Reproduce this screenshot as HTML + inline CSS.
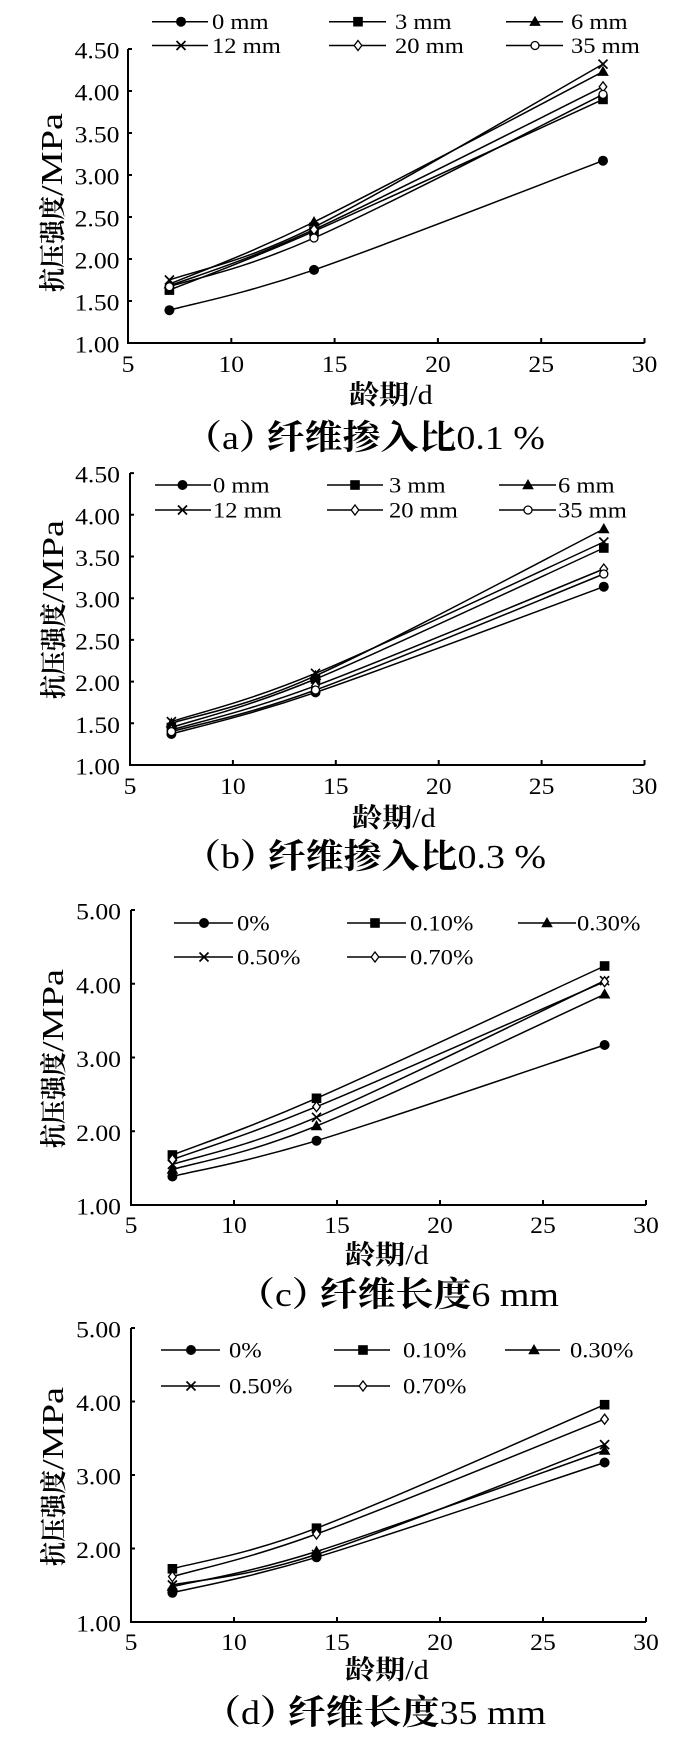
<!DOCTYPE html>
<html><head><meta charset="utf-8"><style>
html,body{margin:0;padding:0;background:#fff;}
svg{display:block;}
.t{font-family:"Liberation Serif","Noto Serif CJK SC",serif;font-size:22px;fill:#000;}
.k{font-size:23px;}
.c{font-family:"Noto Serif CJK SC","Noto Sans CJK SC",serif;font-weight:700;fill:#000;}
.l{fill:none;stroke:#000;stroke-width:1.5;}
.ax{fill:none;stroke:#000;stroke-width:2;}
</style></head><body>
<svg width="700" height="1745" viewBox="0 0 700 1745" xmlns="http://www.w3.org/2000/svg">
<defs>
<g id="mc"><circle r="5" fill="#000"/></g>
<g id="ms"><rect x="-4.8" y="-4.8" width="9.6" height="9.6" fill="#000"/></g>
<g id="mt"><path d="M0,-6 L5.8,4.2 L-5.8,4.2Z" fill="#000"/></g>
<g id="mx"><path d="M-4.5,-4.5 L4.5,4.5 M4.5,-4.5 L-4.5,4.5" stroke="#000" stroke-width="1.7" fill="none"/></g>
<g id="md"><path d="M0,-5 L3.8,0 L0,5 L-3.8,0Z" fill="#fff" stroke="#000" stroke-width="1.3"/></g>
<g id="mo"><circle r="4" fill="#fff" stroke="#000" stroke-width="1.3"/></g>
</defs>

<!-- ================= PANEL A ================= -->
<g>
<path class="ax" d="M128,49 L128,343 L644.5,343"/>
<path class="ax" stroke-width="1.5" d="M231.3,343v-5M334.6,343v-5M437.9,343v-5M541.2,343v-5M644.5,343v-5M128,49h4M128,91h4M128,133h4M128,175h4M128,217h4M128,259h4M128,301h4"/>
<text class="t k" text-anchor="end" transform="translate(119.5,58.5) scale(1.1164,1)">4.50</text>
<text class="t k" text-anchor="end" transform="translate(119.5,100.5) scale(1.1164,1)">4.00</text>
<text class="t k" text-anchor="end" transform="translate(119.5,142.5) scale(1.1164,1)">3.50</text>
<text class="t k" text-anchor="end" transform="translate(119.5,184.5) scale(1.1164,1)">3.00</text>
<text class="t k" text-anchor="end" transform="translate(119.5,226.5) scale(1.1164,1)">2.50</text>
<text class="t k" text-anchor="end" transform="translate(119.5,268.5) scale(1.1164,1)">2.00</text>
<text class="t k" text-anchor="end" transform="translate(119.5,310.5) scale(1.1164,1)">1.50</text>
<text class="t k" text-anchor="end" transform="translate(119.5,352.5) scale(1.1164,1)">1.00</text>
<text class="t k" text-anchor="middle" transform="translate(128,372) scale(1.1164,1)">5</text>
<text class="t k" text-anchor="middle" transform="translate(231.3,372) scale(1.1164,1)">10</text>
<text class="t k" text-anchor="middle" transform="translate(334.6,372) scale(1.1164,1)">15</text>
<text class="t k" text-anchor="middle" transform="translate(437.9,372) scale(1.1164,1)">20</text>
<text class="t k" text-anchor="middle" transform="translate(541.2,372) scale(1.1164,1)">25</text>
<text class="t k" text-anchor="middle" transform="translate(644.5,372) scale(1.1164,1)">30</text>
<text class="c" style="font-size:24px" transform="translate(62,292) scale(1.1164,1) rotate(-90)">抗压强度</text>
<text class="t" style="font-size:27px" textLength="83" lengthAdjust="spacingAndGlyphs" transform="translate(62,196) scale(1.1164,1) rotate(-90)">/MPa</text>
<text transform="translate(349,404) scale(1.1164,1)"><tspan class="c" style="font-size:27px">龄期</tspan><tspan class="t" style="font-size:27px">/d</tspan></text>
<text transform="translate(184,449) scale(1.1164,1)" style="font-size:34px"><tspan class="c" style="font-size:34px">（</tspan><tspan class="t" style="font-size:34px">a</tspan><tspan class="c" style="font-size:34px">）</tspan><tspan class="c" style="font-size:34px" dx="-9">纤维掺入比</tspan><tspan class="t" style="font-size:34px">0.1 %</tspan></text>
<!-- legend -->
<path class="l" d="M152,21.7H208M329,21.7H386M506,21.7H563M152,45.5H208M329,45.5H386M506,45.5H563"/>
<use href="#mc" x="181" y="21.7"/><use href="#ms" x="358" y="21.7"/><use href="#mt" x="535" y="21.7"/>
<use href="#mx" x="181" y="45.5"/><use href="#md" x="358" y="45.5"/><use href="#mo" x="535" y="45.5"/>
<text class="t" transform="translate(212,29.2) scale(1.1164,1)">0 mm</text>
<text class="t" transform="translate(395,29.2) scale(1.1164,1)">3 mm</text>
<text class="t" transform="translate(571,29.2) scale(1.1164,1)">6 mm</text>
<text class="t" transform="translate(212,53) scale(1.1164,1)">12 mm</text>
<text class="t" transform="translate(395,53) scale(1.1164,1)">20 mm</text>
<text class="t" transform="translate(571,53) scale(1.1164,1)">35 mm</text>
<!-- series -->
<path class="l" d="M169.4,310.2 C193.5,303.5 241.7,294.8 314,269.9 C386.3,245 554.8,178.9 603,160.7"/>
<path class="l" d="M169.4,290.1 C193.5,280.3 241.7,263.1 314,231.3 C386.3,199.5 554.8,121.4 603,99.4"/>
<path class="l" d="M169.4,284.2 C193.5,273.8 241.7,257.4 314,222 C386.3,186.6 554.8,96.8 603,71.7"/>
<path class="l" d="M169.4,280 C193.5,271.2 241.7,263.1 314,227.1 C386.3,191.1 554.8,91.3 603,64.1"/>
<path class="l" d="M169.4,285.9 C193.5,276.5 241.7,262.8 314,229.6 C386.3,196.4 554.8,110.6 603,86.8"/>
<path class="l" d="M169.4,286.7 C193.5,278.6 241.7,270.1 314,238 C386.3,206 554.8,118.3 603,94.4"/>
<use href="#mc" x="169.4" y="310.2"/><use href="#mc" x="314" y="269.9"/><use href="#mc" x="603" y="160.7"/>
<use href="#ms" x="169.4" y="290.1"/><use href="#ms" x="314" y="231.3"/><use href="#ms" x="603" y="99.4"/>
<use href="#mt" x="169.4" y="284.2"/><use href="#mt" x="314" y="222"/><use href="#mt" x="603" y="71.7"/>
<use href="#mx" x="169.4" y="280"/><use href="#mx" x="314" y="227.1"/><use href="#mx" x="603" y="64.1"/>
<use href="#md" x="169.4" y="285.9"/><use href="#md" x="314" y="229.6"/><use href="#md" x="603" y="86.8"/>
<use href="#mo" x="169.4" y="286.7"/><use href="#mo" x="314" y="238"/><use href="#mo" x="603" y="94.4"/>
</g>

<!-- ================= PANEL B ================= -->
<g>
<path class="ax" d="M130,473 L130,765 L644.5,765"/>
<path class="ax" stroke-width="1.5" d="M232.9,765v-5M335.8,765v-5M438.7,765v-5M541.6,765v-5M644.5,765v-5M130,473.1h4M130,514.8h4M130,556.5h4M130,598.2h4M130,639.9h4M130,681.6h4M130,723.3h4"/>
<text class="t k" text-anchor="end" transform="translate(120,482.6) scale(1.1164,1)">4.50</text>
<text class="t k" text-anchor="end" transform="translate(120,524.3) scale(1.1164,1)">4.00</text>
<text class="t k" text-anchor="end" transform="translate(120,566) scale(1.1164,1)">3.50</text>
<text class="t k" text-anchor="end" transform="translate(120,607.7) scale(1.1164,1)">3.00</text>
<text class="t k" text-anchor="end" transform="translate(120,649.4) scale(1.1164,1)">2.50</text>
<text class="t k" text-anchor="end" transform="translate(120,691.1) scale(1.1164,1)">2.00</text>
<text class="t k" text-anchor="end" transform="translate(120,732.8) scale(1.1164,1)">1.50</text>
<text class="t k" text-anchor="end" transform="translate(120,774.5) scale(1.1164,1)">1.00</text>
<text class="t k" text-anchor="middle" transform="translate(130,794) scale(1.1164,1)">5</text>
<text class="t k" text-anchor="middle" transform="translate(232.9,794) scale(1.1164,1)">10</text>
<text class="t k" text-anchor="middle" transform="translate(335.8,794) scale(1.1164,1)">15</text>
<text class="t k" text-anchor="middle" transform="translate(438.7,794) scale(1.1164,1)">20</text>
<text class="t k" text-anchor="middle" transform="translate(541.6,794) scale(1.1164,1)">25</text>
<text class="t k" text-anchor="middle" transform="translate(644.5,794) scale(1.1164,1)">30</text>
<text class="c" style="font-size:24px" transform="translate(63,699) scale(1.1164,1) rotate(-90)">抗压强度</text>
<text class="t" style="font-size:27px" textLength="83" lengthAdjust="spacingAndGlyphs" transform="translate(63,603) scale(1.1164,1) rotate(-90)">/MPa</text>
<text transform="translate(352,827) scale(1.1164,1)"><tspan class="c" style="font-size:27px">龄期</tspan><tspan class="t" style="font-size:27px">/d</tspan></text>
<text transform="translate(183,868) scale(1.1164,1)" style="font-size:34px"><tspan class="c" style="font-size:34px">（</tspan><tspan class="t" style="font-size:34px">b</tspan><tspan class="c" style="font-size:34px">）</tspan><tspan class="c" style="font-size:34px" dx="-9">纤维掺入比</tspan><tspan class="t" style="font-size:34px">0.3 %</tspan></text>
<path class="l" d="M155,485H211M327,485H383M499,485H556M155,510H211M327,510H383M499,510H556"/>
<use href="#mc" x="182.5" y="485"/><use href="#ms" x="355" y="485"/><use href="#mt" x="528" y="485"/>
<use href="#mx" x="182.5" y="510"/><use href="#md" x="355" y="510"/><use href="#mo" x="528" y="510"/>
<text class="t" transform="translate(213,492.5) scale(1.1164,1)">0 mm</text>
<text class="t" transform="translate(389,492.5) scale(1.1164,1)">3 mm</text>
<text class="t" transform="translate(558,492.5) scale(1.1164,1)">6 mm</text>
<text class="t" transform="translate(213,517.5) scale(1.1164,1)">12 mm</text>
<text class="t" transform="translate(389,517.5) scale(1.1164,1)">20 mm</text>
<text class="t" transform="translate(558,517.5) scale(1.1164,1)">35 mm</text>
<path class="l" d="M171.4,734 C195.4,727.1 243.4,717 315.5,692.4 C387.6,667.9 555.8,604.3 603.8,586.7"/>
<path class="l" d="M171.4,727.5 C195.4,719.4 243.4,708.9 315.5,679 C387.6,649.1 555.8,569.8 603.8,548"/>
<path class="l" d="M171.4,723.3 C195.4,715.4 243.4,708.2 315.5,675.8 C387.6,643.4 555.8,553.5 603.8,529"/>
<path class="l" d="M171.4,721.6 C195.4,713.6 243.4,703.2 315.5,673.3 C387.6,643.4 555.8,563.9 603.8,542"/>
<path class="l" d="M171.4,730 C195.4,722.6 243.4,712.6 315.5,685.8 C387.6,659 555.8,588.5 603.8,569"/>
<path class="l" d="M171.4,731.6 C195.4,724.7 243.4,716.3 315.5,690 C387.6,663.7 555.8,593.3 603.8,574"/>
<use href="#mc" x="171.4" y="734"/><use href="#mc" x="315.5" y="692.4"/><use href="#mc" x="603.8" y="586.7"/>
<use href="#ms" x="171.4" y="727.5"/><use href="#ms" x="315.5" y="679"/><use href="#ms" x="603.8" y="548"/>
<use href="#mt" x="171.4" y="723.3"/><use href="#mt" x="315.5" y="675.8"/><use href="#mt" x="603.8" y="529"/>
<use href="#mx" x="171.4" y="721.6"/><use href="#mx" x="315.5" y="673.3"/><use href="#mx" x="603.8" y="542"/>
<use href="#md" x="171.4" y="730"/><use href="#md" x="315.5" y="685.8"/><use href="#md" x="603.8" y="569"/>
<use href="#mo" x="171.4" y="731.6"/><use href="#mo" x="315.5" y="690"/><use href="#mo" x="603.8" y="574"/>
</g>

<!-- ================= PANEL C ================= -->
<g>
<path class="ax" d="M131,910 L131,1205 L646,1205"/>
<path class="ax" stroke-width="1.5" d="M234,1205v-5M337,1205v-5M440,1205v-5M543,1205v-5M646,1205v-5M131,910h4M131,983.75h4M131,1057.5h4M131,1131.25h4"/>
<text class="t k" text-anchor="end" transform="translate(121,919.5) scale(1.1164,1)">5.00</text>
<text class="t k" text-anchor="end" transform="translate(121,993.25) scale(1.1164,1)">4.00</text>
<text class="t k" text-anchor="end" transform="translate(121,1067) scale(1.1164,1)">3.00</text>
<text class="t k" text-anchor="end" transform="translate(121,1140.75) scale(1.1164,1)">2.00</text>
<text class="t k" text-anchor="end" transform="translate(121,1214.5) scale(1.1164,1)">1.00</text>
<text class="t k" text-anchor="middle" transform="translate(131,1233) scale(1.1164,1)">5</text>
<text class="t k" text-anchor="middle" transform="translate(234,1233) scale(1.1164,1)">10</text>
<text class="t k" text-anchor="middle" transform="translate(337,1233) scale(1.1164,1)">15</text>
<text class="t k" text-anchor="middle" transform="translate(440,1233) scale(1.1164,1)">20</text>
<text class="t k" text-anchor="middle" transform="translate(543,1233) scale(1.1164,1)">25</text>
<text class="t k" text-anchor="middle" transform="translate(646,1233) scale(1.1164,1)">30</text>
<text class="c" style="font-size:24px" transform="translate(63,1148) scale(1.1164,1) rotate(-90)">抗压强度</text>
<text class="t" style="font-size:27px" textLength="83" lengthAdjust="spacingAndGlyphs" transform="translate(63,1052) scale(1.1164,1) rotate(-90)">/MPa</text>
<text transform="translate(345,1264) scale(1.1164,1)"><tspan class="c" style="font-size:27px">龄期</tspan><tspan class="t" style="font-size:27px">/d</tspan></text>
<text transform="translate(237,1306) scale(1.1164,1)" style="font-size:34px"><tspan class="c" style="font-size:34px">（</tspan><tspan class="t" style="font-size:34px">c</tspan><tspan class="c" style="font-size:34px">）</tspan><tspan class="c" style="font-size:34px" dx="-9">纤维长度</tspan><tspan class="t" style="font-size:34px">6 mm</tspan></text>
<path class="l" d="M174,923H233M347,923H406M518,923H576M174,957H233M347,957H406"/>
<use href="#mc" x="204" y="923"/><use href="#ms" x="375" y="923"/><use href="#mt" x="547" y="923"/>
<use href="#mx" x="204" y="957"/><use href="#md" x="375" y="957"/>
<text class="t" transform="translate(237,930.5) scale(1.1164,1)">0%</text>
<text class="t" transform="translate(410,930.5) scale(1.1164,1)">0.10%</text>
<text class="t" transform="translate(577,930.5) scale(1.1164,1)">0.30%</text>
<text class="t" transform="translate(237,964.5) scale(1.1164,1)">0.50%</text>
<text class="t" transform="translate(410,964.5) scale(1.1164,1)">0.70%</text>
<path class="l" d="M172.4,1176.5 C196.4,1170.5 244.5,1162.6 316.5,1140.7 C388.5,1118.8 556.6,1061 604.6,1045"/>
<path class="l" d="M172.4,1155 C196.4,1145.6 244.5,1129.8 316.5,1098.3 C388.5,1066.8 556.6,988.1 604.6,966"/>
<path class="l" d="M172.4,1169.6 C196.4,1162.3 244.5,1155.2 316.5,1126 C388.5,1096.8 556.6,1016.3 604.6,994.3"/>
<path class="l" d="M172.4,1164.4 C196.4,1156.6 244.5,1147.9 316.5,1117.3 C388.5,1086.7 556.6,1003.5 604.6,980.7"/>
<path class="l" d="M172.4,1159.5 C196.4,1150.7 244.5,1136.3 316.5,1106.7 C388.5,1077.1 556.6,1002.5 604.6,981.7"/>
<use href="#mc" x="172.4" y="1176.5"/><use href="#mc" x="316.5" y="1140.7"/><use href="#mc" x="604.6" y="1045"/>
<use href="#ms" x="172.4" y="1155"/><use href="#ms" x="316.5" y="1098.3"/><use href="#ms" x="604.6" y="966"/>
<use href="#mt" x="172.4" y="1169.6"/><use href="#mt" x="316.5" y="1126"/><use href="#mt" x="604.6" y="994.3"/>
<use href="#mx" x="172.4" y="1164.4"/><use href="#mx" x="316.5" y="1117.3"/><use href="#mx" x="604.6" y="980.7"/>
<use href="#md" x="172.4" y="1159.5"/><use href="#md" x="316.5" y="1106.7"/><use href="#md" x="604.6" y="981.7"/>
</g>

<!-- ================= PANEL D ================= -->
<g>
<path class="ax" d="M131,1328 L131,1622 L646,1622"/>
<path class="ax" stroke-width="1.5" d="M234,1622v-5M337,1622v-5M440,1622v-5M543,1622v-5M646,1622v-5M131,1328h4M131,1401.5h4M131,1475h4M131,1548.5h4"/>
<text class="t k" text-anchor="end" transform="translate(121,1337.5) scale(1.1164,1)">5.00</text>
<text class="t k" text-anchor="end" transform="translate(121,1411) scale(1.1164,1)">4.00</text>
<text class="t k" text-anchor="end" transform="translate(121,1484.5) scale(1.1164,1)">3.00</text>
<text class="t k" text-anchor="end" transform="translate(121,1558) scale(1.1164,1)">2.00</text>
<text class="t k" text-anchor="end" transform="translate(121,1631.5) scale(1.1164,1)">1.00</text>
<text class="t k" text-anchor="middle" transform="translate(131,1650) scale(1.1164,1)">5</text>
<text class="t k" text-anchor="middle" transform="translate(234,1650) scale(1.1164,1)">10</text>
<text class="t k" text-anchor="middle" transform="translate(337,1650) scale(1.1164,1)">15</text>
<text class="t k" text-anchor="middle" transform="translate(440,1650) scale(1.1164,1)">20</text>
<text class="t k" text-anchor="middle" transform="translate(543,1650) scale(1.1164,1)">25</text>
<text class="t k" text-anchor="middle" transform="translate(646,1650) scale(1.1164,1)">30</text>
<text class="c" style="font-size:24px" transform="translate(63,1566) scale(1.1164,1) rotate(-90)">抗压强度</text>
<text class="t" style="font-size:27px" textLength="83" lengthAdjust="spacingAndGlyphs" transform="translate(63,1470) scale(1.1164,1) rotate(-90)">/MPa</text>
<text transform="translate(345,1679) scale(1.1164,1)"><tspan class="c" style="font-size:27px">龄期</tspan><tspan class="t" style="font-size:27px">/d</tspan></text>
<text transform="translate(203,1724) scale(1.1164,1)" style="font-size:34px"><tspan class="c" style="font-size:34px">（</tspan><tspan class="t" style="font-size:34px">d</tspan><tspan class="c" style="font-size:34px">）</tspan><tspan class="c" style="font-size:34px" dx="-9">纤维长度</tspan><tspan class="t" style="font-size:34px">35 mm</tspan></text>
<path class="l" d="M161,1350H220M334,1350H390M505,1350H560M161,1386H220M334,1386H390"/>
<use href="#mc" x="191" y="1350"/><use href="#ms" x="363" y="1350"/><use href="#mt" x="534" y="1350"/>
<use href="#mx" x="191" y="1386"/><use href="#md" x="363" y="1386"/>
<text class="t" transform="translate(229,1357.5) scale(1.1164,1)">0%</text>
<text class="t" transform="translate(403,1357.5) scale(1.1164,1)">0.10%</text>
<text class="t" transform="translate(570,1357.5) scale(1.1164,1)">0.30%</text>
<text class="t" transform="translate(229,1393.5) scale(1.1164,1)">0.50%</text>
<text class="t" transform="translate(403,1393.5) scale(1.1164,1)">0.70%</text>
<path class="l" d="M172.4,1592.8 C196.4,1586.9 244.5,1579 316.5,1557.3 C388.5,1535.6 556.6,1478.3 604.6,1462.5"/>
<path class="l" d="M172.4,1568.8 C196.4,1562 244.5,1555.6 316.5,1528.2 C388.5,1500.9 556.6,1425.3 604.6,1404.7"/>
<path class="l" d="M172.4,1586.7 C196.4,1580.8 244.5,1574.2 316.5,1551.5 C388.5,1528.8 556.6,1467.3 604.6,1450.5"/>
<path class="l" d="M172.4,1585 C196.4,1579.9 244.5,1577.9 316.5,1554.5 C388.5,1531.1 556.6,1462.9 604.6,1444.6"/>
<path class="l" d="M172.4,1576.6 C196.4,1569.5 244.5,1560.2 316.5,1534 C388.5,1507.8 556.6,1438.3 604.6,1419.2"/>
<use href="#mc" x="172.4" y="1592.8"/><use href="#mc" x="316.5" y="1557.3"/><use href="#mc" x="604.6" y="1462.5"/>
<use href="#ms" x="172.4" y="1568.8"/><use href="#ms" x="316.5" y="1528.2"/><use href="#ms" x="604.6" y="1404.7"/>
<use href="#mt" x="172.4" y="1586.7"/><use href="#mt" x="316.5" y="1551.5"/><use href="#mt" x="604.6" y="1450.5"/>
<use href="#mx" x="172.4" y="1585"/><use href="#mx" x="316.5" y="1554.5"/><use href="#mx" x="604.6" y="1444.6"/>
<use href="#md" x="172.4" y="1576.6"/><use href="#md" x="316.5" y="1534"/><use href="#md" x="604.6" y="1419.2"/>
</g>
</svg>
</body></html>
